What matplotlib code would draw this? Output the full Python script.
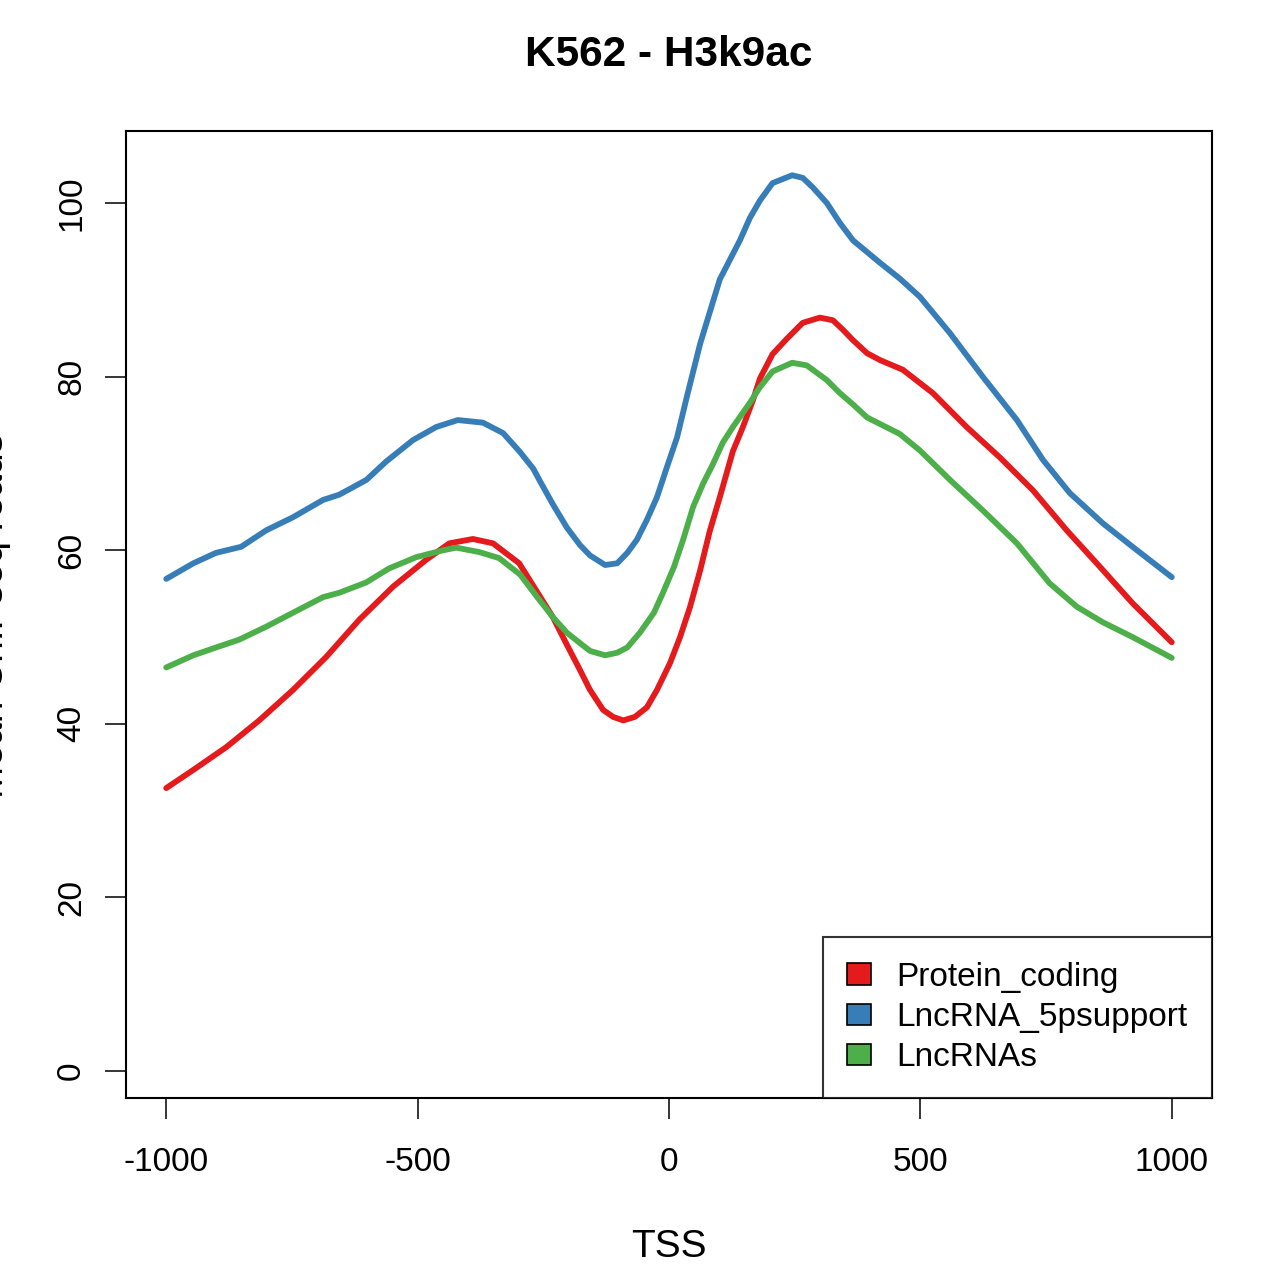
import matplotlib
matplotlib.use("Agg")
import matplotlib.pyplot as plt
from matplotlib.patches import Patch

plt.rcParams['font.family'] = ['Liberation Sans', 'DejaVu Sans']
plt.rcParams['axes.unicode_minus'] = False

# values (TSS offset, mean reads)
red_x = [-1000, -946, -881, -815, -748, -682, -616, -549, -483, -437, -390, -350,
         -298, -231, -203, -177, -157, -131, -111, -91, -68, -44, -24, 2, 22, 42,
         62, 81, 101, 127, 147, 167, 181, 206, 235, 266, 300, 326, 346, 366, 394,
         420, 465, 525, 592, 658, 724, 791, 857, 922, 1000]
red_y = [32.6, 34.7, 37.3, 40.4, 43.9, 47.7, 52.0, 55.8, 58.9, 60.8, 61.3, 60.8,
         58.5, 52.3, 49.1, 46.2, 43.9, 41.6, 40.8, 40.4, 40.8, 41.9, 43.9, 47.0, 50.0, 53.5,
         57.7, 62.2, 66.1, 71.4, 74.2, 77.3, 79.8, 82.6, 84.4, 86.2, 86.8, 86.5, 85.4, 84.2, 82.7,
         81.9, 80.8, 78.1, 74.2, 70.7, 66.9, 62.3, 58.1, 53.9, 49.4]

blue_x = [-1000, -946, -901, -851, -801, -748, -688, -656, -602, -563, -509, -463,
          -420, -370, -330, -296, -270, -256, -231, -203, -177, -157, -127, -103,
          -83, -64, -44, -24, -4, 16, 36, 62, 101, 141, 161, 181, 206, 245, 266,
          286, 314, 340, 366, 420, 459, 499, 559, 624, 692, 744, 797, 863, 922, 1000]
blue_y = [56.7, 58.5, 59.7, 60.4, 62.3, 63.8, 65.8, 66.4, 68.1, 70.2, 72.7, 74.2,
          75.0, 74.7, 73.5, 71.3, 69.4, 67.9, 65.3, 62.6, 60.6, 59.4, 58.3, 58.5,
          59.7, 61.2, 63.5, 66.1, 69.6, 73.0, 77.8, 83.8, 91.2, 95.7, 98.3, 100.3, 102.3, 103.2, 102.9,
          101.8, 100.0, 97.7, 95.7, 93.1, 91.3, 89.2, 85.0, 80.0, 75.0, 70.4, 66.6, 63.1, 60.4, 56.9]

green_x = [-1000, -946, -901, -855, -801, -748, -688, -656, -602, -557, -503, -449,
           -423, -378, -338, -296, -262, -231, -203, -177, -157, -127, -103, -83,
           -58, -30, -12, 10, 28, 48, 68, 88, 107, 127, 161, 181, 206, 245, 274,
           314, 340, 366, 394, 459, 499, 559, 624, 692, 757, 811, 863, 922, 1000]
green_y = [46.5, 47.9, 48.8, 49.7, 51.2, 52.8, 54.6, 55.1, 56.3, 57.9, 59.2, 60.0,
           60.3, 59.8, 59.1, 57.2, 54.6, 52.3, 50.5, 49.3, 48.4, 47.9, 48.2, 48.8,
           50.5, 52.8, 55.1, 58.1, 61.2, 65.0, 67.7, 70.0, 72.4, 74.2, 77.0, 78.8, 80.6, 81.6, 81.3,
           79.6, 78.1, 76.8, 75.3, 73.4, 71.5, 68.1, 64.6, 60.8, 56.2, 53.5, 51.7, 50.0, 47.6]

labels = ['Protein_coding', 'LncRNA_5psupport', 'LncRNAs']
colors = ['#E41A1C', '#377EB8', '#4DAF4A']
xticks = [-1000, -500, 0, 500, 1000]
yticks = [0, 20, 40, 60, 80, 100]

fig = plt.figure(figsize=(12.8, 12.76), dpi=100)
ax = fig.add_axes([126 / 1280, 1 - 1098 / 1276, (1212 - 126) / 1280, (1098 - 131) / 1276])

for xs, ys, c in zip([red_x, blue_x, green_x], [red_y, blue_y, green_y], colors):
    ax.plot(xs, ys, color=c, lw=4.2, solid_capstyle='round', solid_joinstyle='round')

ax.set_xlim(-1080, 1080)
ax.set_ylim(-3.1, 108.3)
ax.set_xticks(xticks)
ax.set_yticks(yticks)
ax.tick_params(length=15, width=1.1, labelsize=24, direction='out')
ax.tick_params(axis='x', pad=20)
ax.tick_params(axis='y', labelrotation=90, pad=13)
for lab in ax.get_yticklabels():
    lab.set_va('center')
for s in ax.spines.values():
    s.set_linewidth(1.5)

handles = [Patch(facecolor=c, edgecolor='black', linewidth=1.2) for c in colors]
leg = ax.legend(handles, labels, loc='lower right', fontsize=24, frameon=True,
                fancybox=False, borderaxespad=0, borderpad=0.74, labelspacing=0.28,
                handlelength=0.72, handleheight=0.6, handletextpad=0.75)
leg.get_frame().set_edgecolor('black')
leg.get_frame().set_linewidth(1.5)

fig.text(669 / 1280, 1 - 66 / 1276, 'K562 - H3k9ac', ha='center', va='baseline',
         fontsize=30.5, fontweight='bold')
fig.text(669 / 1280, 1 - 1257 / 1276, 'TSS', ha='center', va='baseline', fontsize=28)
# the y label sits mostly past the left edge, as in the reference
fig.text(11 / 1280, 1 - 615 / 1276, 'Mean ChIPseq reads', ha='right', va='center',
         rotation=90, fontsize=28)

fig.savefig('out.png', dpi=100)
